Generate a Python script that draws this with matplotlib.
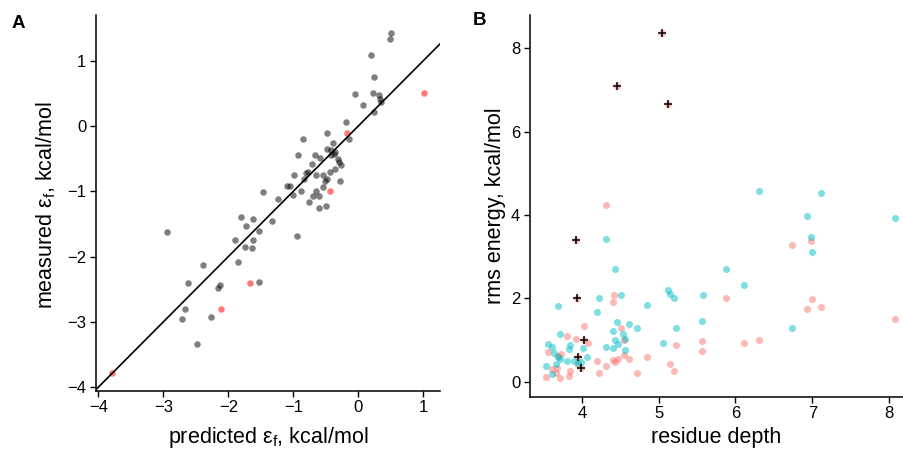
import matplotlib
matplotlib.use("Agg")
import matplotlib.pyplot as plt
import numpy as np

plt.rcParams['font.family'] = ['Liberation Sans', 'DejaVu Sans']
plt.rcParams['mathtext.fontset'] = 'custom'
plt.rcParams['mathtext.rm'] = 'Liberation Sans'
plt.rcParams['mathtext.it'] = 'Liberation Sans:italic'

# ---- Panel A data: predicted vs measured epsilon_f ----
pred_gray = [0.497, 0.487, 0.195, 0.236, -0.046, 0.231, 0.313, 0.338, 0.354, 0.077,
             0.241, -0.19, -0.477, -0.138, -0.846, -0.395, -0.487, -0.415, -0.359, -0.426,
             -0.374, -0.662, -0.928, -0.59, -0.313, -0.292, -0.262, -0.708, -0.779, -0.805,
             -0.359, -0.441, -0.538, -0.651, -0.985, -0.831, -0.482, -0.508, -0.277, -1.092,
             -1.046, -0.549, -0.646, -0.877, -1.467, -1.01, -0.697, -0.61, -1.236, -0.754,
             -0.61, -0.497, -0.949, -1.81, -1.615, -1.328, -1.723, -1.533, -2.944, -1.897,
             -1.615, -1.738, -1.631, -1.851, -2.395, -2.621, -2.123, -2.159, -1.523, -2.672,
             -2.262, -2.713, -2.477]
meas_gray = [1.43, 1.33, 1.08, 0.755, 0.485, 0.5, 0.474, 0.408, 0.372, 0.327,
             0.219, 0.056, -0.112, -0.199, -0.199, -0.265, -0.347, -0.367, -0.393, -0.444,
             -0.429, -0.439, -0.449, -0.495, -0.51, -0.556, -0.597, -0.582, -0.699, -0.714,
             -0.663, -0.704, -0.75, -0.755, -0.75, -0.811, -0.816, -0.837, -0.842, -0.918,
             -0.918, -0.929, -0.995, -1.0, -1.01, -1.061, -1.071, -1.077, -1.112, -1.158,
             -1.26, -1.23, -1.679, -1.398, -1.418, -1.459, -1.531, -1.602, -1.617, -1.75,
             -1.74, -1.847, -1.867, -2.087, -2.128, -2.398, -2.439, -2.474, -2.388, -2.796,
             -2.923, -2.954, -3.332]
pred_red = [1.005, -0.179, -0.441, -1.662, -2.118, -3.795]
meas_red = [0.5, -0.102, -1.0, -2.398, -2.796, -3.786]

# ---- Panel B data: residue depth vs rms energy ----
depth_cyan = [6.309, 7.117, 6.935, 8.078, 6.978, 6.996, 4.313, 4.426, 5.878, 6.109,
              5.122, 5.148, 5.2, 5.578, 4.504, 4.23, 3.696, 4.852, 4.204, 4.457,
              4.609, 4.722, 4.404, 5.57, 5.23, 6.739, 3.717, 4.535, 4.561, 4.435,
              4.474, 5.052, 3.848, 3.835, 3.565, 3.617, 4.313, 4.409, 4.022, 4.561,
              3.643, 3.691, 4.074, 3.713, 3.813, 3.896, 3.996, 3.952, 3.67, 3.535, 3.609]
rms_cyan = [4.576, 4.536, 3.984, 3.936, 3.48, 3.104, 3.424, 2.696, 2.704, 2.328,
            2.192, 2.104, 2.0, 2.072, 2.08, 2.008, 1.816, 1.848, 1.68, 1.432,
            1.384, 1.296, 1.208, 1.448, 1.28, 1.296, 1.144, 1.136, 1.024, 0.992,
            0.896, 0.928, 0.872, 0.792, 0.904, 0.84, 0.824, 0.808, 0.808, 0.76,
            0.696, 0.6, 0.584, 0.544, 0.488, 0.504, 0.48, 0.456, 0.424, 0.368, 0.184]
depth_salmon = [4.313, 6.739, 6.978, 4.422, 4.4, 5.878, 6.996, 7.117, 6.935, 8.078,
                4.026, 3.813, 3.926, 4.078, 4.504, 4.552, 5.23, 5.57, 5.57, 6.109,
                6.309, 3.726, 3.565, 3.687, 4.552, 4.609, 4.852, 4.204, 4.409, 4.465,
                4.435, 4.313, 5.143, 5.2, 4.23, 4.722, 3.848, 3.835, 3.713, 3.535,
                3.617, 3.67, 3.683, 3.952,
                5.048, 4.452, 5.122, 3.926, 3.935, 4.035, 3.957, 3.996]
rms_salmon = [4.232, 3.28, 3.368, 2.08, 1.92, 2.016, 1.992, 1.8, 1.744, 1.504,
              1.344, 1.096, 1.032, 0.92, 1.288, 1.0, 0.88, 0.968, 0.744, 0.936,
              1.0, 0.656, 0.704, 0.616, 0.64, 0.544, 0.584, 0.504, 0.52, 0.536,
              0.48, 0.384, 0.432, 0.264, 0.208, 0.208, 0.256, 0.128, 0.08, 0.104,
              0.296, 0.2, 0.336, 0.4,
              8.36, 7.096, 6.664, 3.4, 2.0, 1.0, 0.6, 0.336]
depth_cross = [5.048, 4.452, 5.122, 3.926, 3.935, 4.035, 3.957, 3.996]
rms_cross = [8.36, 7.096, 6.664, 3.4, 2.0, 1.0, 0.6, 0.336]

a_xticks = [-4, -3, -2, -1, 0, 1]
a_yticks = [-4, -3, -2, -1, 0, 1]
b_xticks = [4, 5, 6, 7, 8]
b_yticks = [0, 2, 4, 6, 8]

W, H = 904, 451
fig = plt.figure(figsize=(W / 100, H / 100), dpi=100)

def frac(l, r, b, t):
    return [l / W, 1 - b / H, (r - l) / W, (b - t) / H]

tick_fs = 12
lab_fs = 15.5

def style(ax):
    for s in ['top', 'right']:
        ax.spines[s].set_visible(False)
    for s in ['left', 'bottom']:
        ax.spines[s].set_linewidth(1.1)
    ax.tick_params(direction='out', length=4, width=1.0, labelsize=tick_fs, pad=3, colors='black')

axA = fig.add_axes(frac(96, 440, 390.5, 15))
axA.scatter(pred_gray, meas_gray, s=22, color='black', alpha=0.5, linewidths=0, zorder=2)
axA.scatter(pred_red, meas_red, s=22, color='#FF4C4C', alpha=0.75, linewidths=0, zorder=3)
axA.axline((0, 0), slope=1, color='black', lw=1.2, zorder=4)
axA.set_xlim(-4.035, 1.257)
axA.set_ylim(-4.05, 1.70)
axA.set_xticks(a_xticks)
axA.set_yticks(a_yticks)
axA.set_xlabel(r'predicted ε$_\mathrm{f}$, kcal/mol', fontsize=lab_fs, va='center')
axA.set_ylabel(r'measured ε$_\mathrm{f}$, kcal/mol', fontsize=lab_fs, va='center')
axA.xaxis.set_label_coords(0.5, (390.5 - 438) / 375.5)
axA.yaxis.set_label_coords((46 - 96) / 344, 0.494)
style(axA)

axB = fig.add_axes(frac(530, 903, 396.5, 15))
axB.scatter(depth_salmon, rms_salmon, s=26, color='#F8766D', alpha=0.5, linewidths=0, zorder=2)
axB.scatter(depth_cyan, rms_cyan, s=26, color='#00BFC4', alpha=0.5, linewidths=0, zorder=3)
axB.scatter(depth_cross, rms_cross, s=28, marker='+', color='black', linewidths=1.1, zorder=4)
axB.set_xlim(3.326, 8.18)
axB.set_ylim(-0.36, 8.8)
axB.set_xticks(b_xticks)
axB.set_yticks(b_yticks)
axB.set_xlabel('residue depth', fontsize=lab_fs, va='center')
axB.set_ylabel('rms energy, kcal/mol', fontsize=lab_fs, va='center')
axB.xaxis.set_label_coords(0.5, (396.5 - 438) / 381.5)
axB.yaxis.set_label_coords((496 - 530) / 373, 0.5)
style(axB)

fig.text(12 / W, 1 - 15 / H, 'A', fontsize=13.5, fontweight='bold', va='top', ha='left')
fig.text(473 / W, 1 - 12 / H, 'B', fontsize=13.5, fontweight='bold', va='top', ha='left')

fig.savefig('out.png', dpi=100)
